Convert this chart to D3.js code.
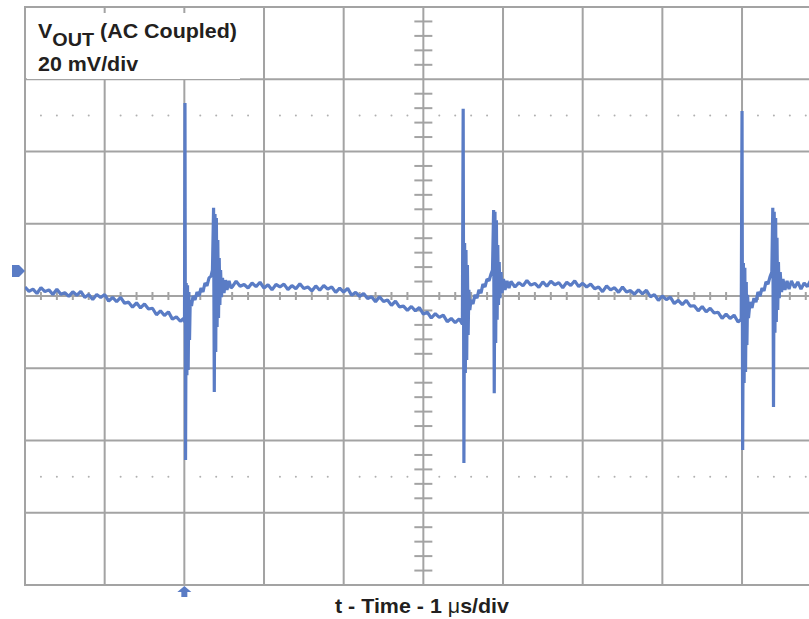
<!DOCTYPE html>
<html>
<head>
<meta charset="utf-8">
<script src="https://cdn.jsdelivr.net/npm/d3@7"></script>
<style>
    body { margin: 0; background: #fff; }
    text { font-family: "Liberation Sans", Arial, sans-serif; font-weight: bold; fill: #231f20; }
</style>
</head>
<body>
<svg id="scope" width="809" height="619"></svg>
<script>
// scope settings (1 us/div, 20 mV/div, 10 x 8 divisions)
var timeDivs = [0, 1, 2, 3, 4, 5, 6, 7, 8, 9, 10];
var voltDivs = [-80, -60, -40, -20, 0, 20, 40, 60, 80];
var dottedRows = [50, -50];
var boxLines = ['V', 'OUT', ' (AC Coupled)', '20 mV/div'];
var axisLabel = ['t - Time - 1 ', '\u03bc', 's/div'];

// trace, [time us, vout mV]
var ramp1 = [[0.00, 2.5], [0.05, 1.3], [0.10, 1.9], [0.15, 0.7], [0.20, 2.3], [0.25, 1.2], [0.30, 1.7], [0.35, 0.4],
    [0.40, 1.9], [0.45, 0.5], [0.50, 0.9], [0.55, -0.1], [0.60, 1.2], [0.65, 0.2], [0.70, 1.3], [0.75, -0.4],
    [0.80, 0.4], [0.85, -1.0], [0.90, 0.4], [0.95, -0.4], [1.00, 0.4], [1.05, -1.4], [1.10, -0.4], [1.15, -1.6],
    [1.20, -0.4], [1.25, -2.0], [1.30, -1.7], [1.35, -3.1], [1.40, -1.9], [1.45, -3.3], [1.50, -2.2], [1.55, -3.6],
    [1.60, -3.4], [1.65, -5.2], [1.70, -4.1], [1.75, -5.4], [1.80, -4.4], [1.85, -6.4], [1.90, -5.8], [1.95, -7.0], [1.99, -6.2]];
var burst1 = [[2.002, -7.2], [2.008, 53.4], [2.015, -45.4], [2.023, 3.6], [2.032, -21.9], [2.040, 3.0], [2.048, -20.5],
    [2.057, 1.1], [2.065, -12.2], [2.074, -1.1], [2.090, -2.8], [2.109, 0.0], [2.134, -1.1], [2.159, 1.1], [2.184, 0.0],
    [2.209, 2.2], [2.234, 1.1], [2.259, 3.6], [2.284, 2.8], [2.310, 5.0], [2.335, 5.5], [2.353, 7.2],
    [2.367, 24.4], [2.376, -26.6], [2.385, 22.7], [2.394, -15.5], [2.402, 21.6], [2.411, -8.6], [2.420, 15.5],
    [2.429, -6.1], [2.438, 10.5], [2.446, -2.5], [2.455, 7.2], [2.466, -0.3], [2.479, 5.0], [2.498, 0.8],
    [2.517, 4.4], [2.535, 1.7], [2.561, 4.2], [2.586, 2.2]];
var ramp2 = [[2.60, 2.5], [2.65, 4.1], [2.70, 2.7], [2.75, 3.2], [2.80, 2.2], [2.85, 3.6], [2.90, 2.6], [2.95, 3.8],
    [3.00, 2.2], [3.05, 3.1], [3.10, 1.7], [3.15, 3.2], [3.20, 2.5], [3.25, 3.3], [3.30, 1.8], [3.35, 2.9],
    [3.40, 2.0], [3.45, 3.4], [3.50, 2.1], [3.55, 2.5], [3.60, 1.4], [3.65, 2.8], [3.70, 1.6], [3.75, 2.9],
    [3.80, 1.9], [3.85, 2.5], [3.90, 1.0], [3.95, 2.2], [4.00, 1.1], [4.05, 2.1], [4.10, 0.2], [4.15, 1.0],
    [4.20, -0.1], [4.25, 0.7], [4.30, -0.7], [4.35, -0.2], [4.40, -1.6], [4.45, -0.2], [4.50, -1.5], [4.55, -1.1],
    [4.60, -2.6], [4.65, -1.4], [4.70, -3.0], [4.75, -2.8], [4.80, -4.0], [4.85, -2.9], [4.90, -4.1], [4.95, -3.2],
    [5.00, -5.0], [5.05, -4.5], [5.10, -6.1], [5.15, -4.9], [5.20, -5.9], [5.25, -5.3], [5.30, -7.1], [5.35, -6.2],
    [5.40, -7.4], [5.45, -6.3], [5.49, -7.8]];
var burst2 = [[5.500, 51.8], [5.509, -46.2], [5.518, 14.7], [5.527, -21.3], [5.535, 12.7], [5.544, -17.7],
    [5.553, 8.6], [5.562, -10.8], [5.571, 1.7], [5.583, -3.9], [5.598, -1.1], [5.623, -2.2], [5.648, 0.3],
    [5.673, -0.6], [5.698, 1.7], [5.723, 0.8], [5.748, 3.3], [5.774, 2.5], [5.799, 4.7], [5.824, 4.2],
    [5.849, 6.1], [5.868, 7.2],
    [5.882, 23.8], [5.890, -26.9], [5.899, 23.3], [5.908, -13.0], [5.917, 21.0], [5.926, -6.6], [5.934, 14.1],
    [5.943, -2.5], [5.952, 9.4], [5.962, -0.6], [5.975, 6.6], [5.987, 0.8], [6.006, 4.7], [6.025, 1.7],
    [6.050, 4.2], [6.075, 2.2]];
var ramp3 = [[6.10, 4.0], [6.15, 2.5], [6.20, 3.7], [6.25, 2.8], [6.30, 4.3], [6.35, 3.0], [6.40, 3.5], [6.45, 2.4],
    [6.50, 3.9], [6.55, 2.7], [6.60, 4.1], [6.65, 3.1], [6.70, 3.7], [6.75, 2.3], [6.80, 3.8], [6.85, 2.9],
    [6.90, 4.2], [6.95, 2.6], [7.00, 3.5], [7.05, 2.5], [7.10, 3.3], [7.15, 2.0], [7.20, 2.5], [7.25, 1.2],
    [7.30, 2.8], [7.35, 1.7], [7.40, 2.3], [7.45, 1.0], [7.50, 2.5], [7.55, 1.1], [7.60, 1.5], [7.65, 0.5],
    [7.70, 1.7], [7.75, 0.6], [7.80, 1.6], [7.85, -0.2], [7.90, 0.4], [7.95, -1.2], [8.00, 0.0], [8.05, -1.0],
    [8.10, -0.3], [8.15, -2.1], [8.20, -1.2], [8.25, -2.4], [8.30, -1.2], [8.35, -2.8], [8.40, -2.7], [8.45, -4.1],
    [8.50, -2.9], [8.55, -4.4], [8.60, -3.4], [8.65, -4.7], [8.70, -4.5], [8.75, -6.2], [8.80, -5.0], [8.85, -6.2],
    [8.90, -5.3], [8.95, -7.2], [8.99, -6.4]];
var burst3 = [[9.000, 51.2], [9.008, -42.6], [9.017, 9.1], [9.026, -24.1], [9.035, 7.8], [9.044, -21.0],
    [9.053, 3.9], [9.061, -13.6], [9.070, 0.3], [9.081, -6.1], [9.100, -1.7], [9.125, -3.3], [9.150, -0.6],
    [9.175, -1.7], [9.200, 1.1], [9.226, 0.0], [9.251, 2.2], [9.276, 1.4], [9.301, 3.9], [9.326, 3.3],
    [9.351, 5.3], [9.374, 6.6],
    [9.386, 24.4], [9.395, -30.7], [9.404, 23.3], [9.413, -10.2], [9.422, 21.6], [9.430, -7.2], [9.439, 16.1],
    [9.448, -3.9], [9.457, 9.4], [9.467, -0.6], [9.479, 6.6], [9.496, 1.1], [9.514, 4.7], [9.539, 1.7],
    [9.565, 4.2], [9.590, 1.9]];
var tail = [[9.62, 4.2], [9.66, 2.3], [9.70, 3.9], [9.74, 1.9], [9.78, 3.6], [9.82, 2.6], [9.86, 4.3], [9.90, 2.2],
    [9.95, 3.5], [10.0, 2.7]];

var trace = [].concat(ramp1, burst1, ramp2, burst2, ramp3, burst3, tail);

var gridColor = '#a3a3a3';
var traceColor = '#5a7cc5';

var svg = d3.select('#scope');
var x = d3.scaleLinear().domain([0, 10]).range([25, 821.7]);
var y = d3.scaleLinear().domain([-80, 80]).range([585, 7]);

// main grid
var grid = svg.append('g').attr('stroke', gridColor).attr('stroke-width', 2);
grid.selectAll('line.v').data(timeDivs).enter().append('line')
    .attr('class', 'v')
    .attr('x1', function (d) { return x(d); }).attr('x2', function (d) { return x(d); })
    .attr('y1', y(80) - 1).attr('y2', y(-80) + 1);
grid.selectAll('line.h').data(voltDivs).enter().append('line')
    .attr('class', 'h')
    .attr('x1', x(0) - 1).attr('x2', x(10))
    .attr('y1', function (d) { return y(d); }).attr('y2', function (d) { return y(d); });

// minor ticks on the centre cross
var hTicks = d3.range(0, 10.001, 0.2).filter(function (d) { return Math.abs(d - Math.round(d)) > 0.01; });
var vTicks = d3.range(-80, 80.001, 4).filter(function (d) { return d % 20 != 0; });
grid.selectAll('line.ht').data(hTicks).enter().append('line')
    .attr('x1', function (d) { return x(d); }).attr('x2', function (d) { return x(d); })
    .attr('y1', y(0) - 4).attr('y2', y(0) + 4);
grid.selectAll('line.vt').data(vTicks).enter().append('line')
    .attr('x1', x(5) - 9).attr('x2', x(5) + 9)
    .attr('y1', function (d) { return y(d); }).attr('y2', function (d) { return y(d); });

// dotted rows
dottedRows.forEach(function (row) {
    svg.append('g').selectAll('circle').data(hTicks).enter().append('circle')
        .attr('cx', function (d) { return x(d); })
        .attr('cy', y(row))
        .attr('r', 1)
        .attr('fill', '#b0b0b0');
});

// label box
svg.append('rect').attr('x', 27).attr('y', 13).attr('width', 213).attr('height', 66).attr('fill', '#fff');
var t1 = svg.append('text').attr('transform', 'translate(38,38) scale(1.1,1)').attr('font-size', 19.5);
t1.append('tspan').text(boxLines[0]);
t1.append('tspan').attr('dy', 8).attr('font-size', 18).text(boxLines[1]);
t1.append('tspan').attr('dy', -8).text(boxLines[2]);
svg.append('text').attr('transform', 'translate(38,71) scale(1.1,1)').attr('font-size', 19.5).text(boxLines[3]);

// trace
var line = d3.line()
    .x(function (d) { return x(d[0]); })
    .y(function (d) { return y(d[1]); });
svg.append('defs').append('clipPath').attr('id', 'clip')
    .append('rect').attr('x', x(0)).attr('y', 0).attr('width', x(10) - x(0)).attr('height', 619);
svg.append('path')
    .datum(trace)
    .attr('clip-path', 'url(#clip)')
    .attr('d', line)
    .attr('fill', 'none')
    .attr('stroke', traceColor)
    .attr('stroke-width', 3.2)
    .attr('stroke-linejoin', 'bevel');

// level and trigger markers
svg.append('path').attr('fill', traceColor)
    .attr('d', 'M12,265 L19,265 L25,271 L19,277 L12,277 Z');
var tx = x(2);
svg.append('path').attr('fill', traceColor)
    .attr('d', 'M' + tx + ',586 l7,6 h-4 v5 h-6 v-5 h-4 Z');

// time axis caption
var cap = svg.append('text').attr('transform', 'translate(422,613) scale(1.1,1)')
    .attr('font-size', 19.5).attr('text-anchor', 'middle');
cap.append('tspan').text(axisLabel[0]);
cap.append('tspan').attr('font-weight', 'normal').text(axisLabel[1]);
cap.append('tspan').text(axisLabel[2]);
</script>
</body>
</html>
